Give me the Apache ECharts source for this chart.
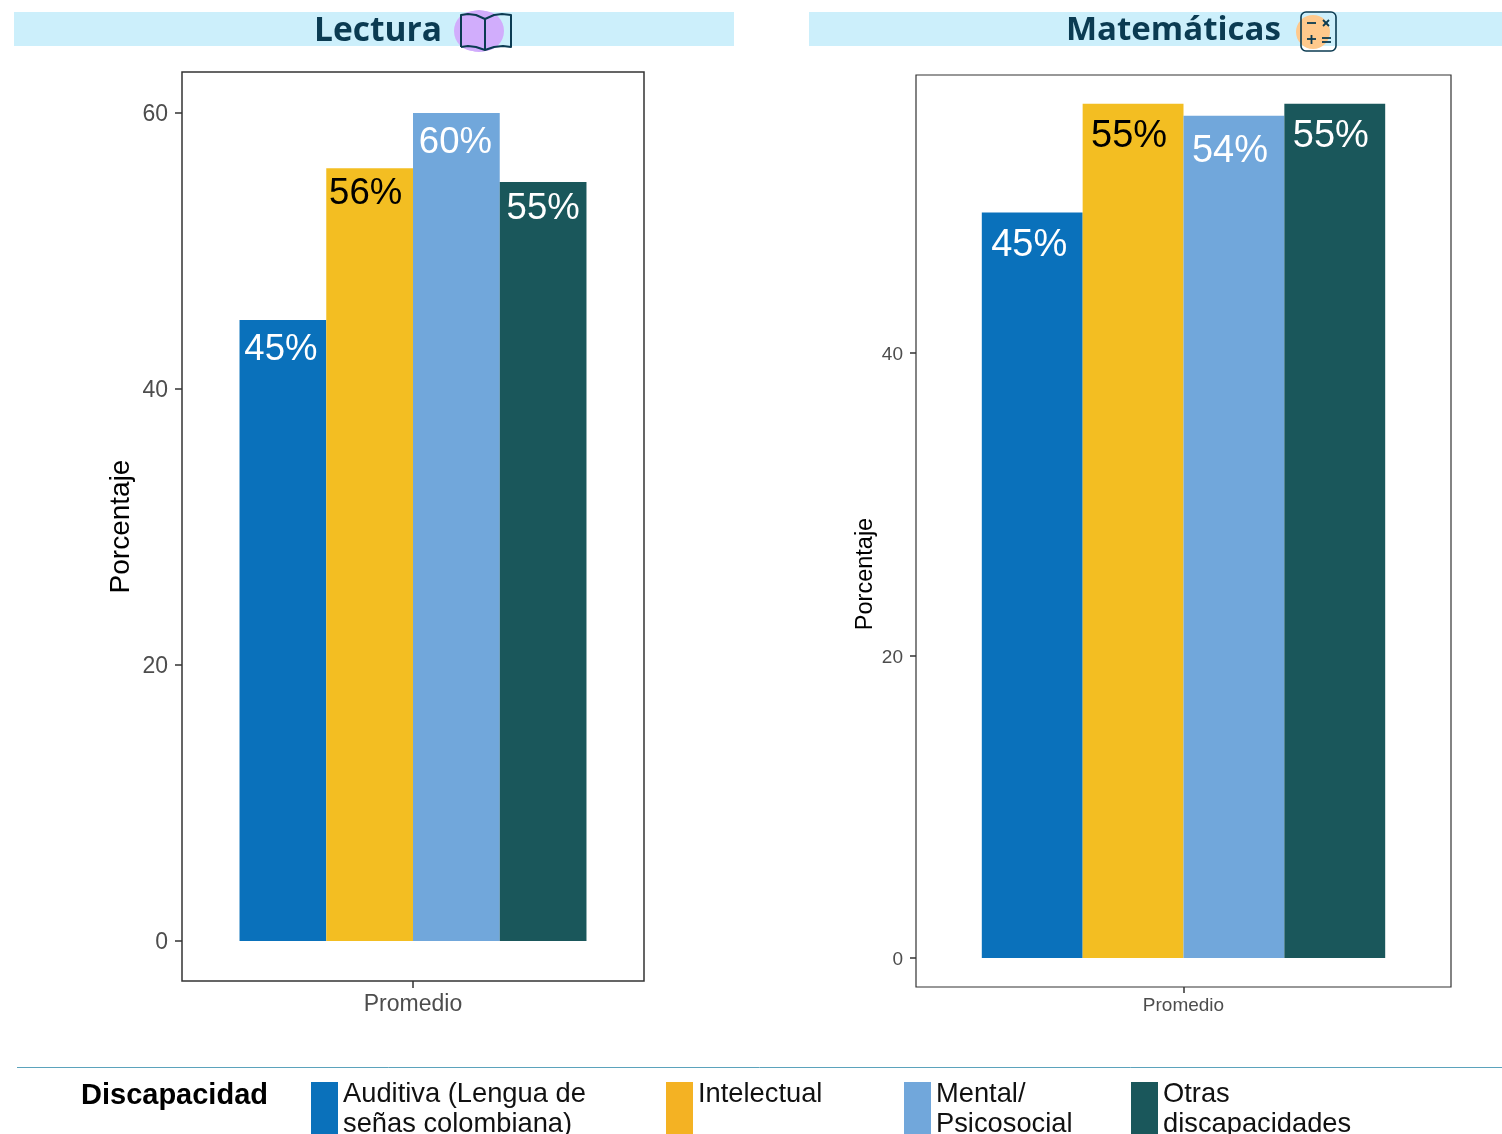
<!DOCTYPE html>
<html><head><meta charset="utf-8">
<style>html,body{margin:0;padding:0;background:#fff;overflow:hidden}#c{width:1502px;height:1134px}</style>
<script src="https://cdn.jsdelivr.net/npm/echarts@6/dist/echarts.min.js"></script>
</head><body><div id="c"></div>
<script>
const categories = ['Promedio'];
const seriesNames = ['Auditiva (Lengua de\nseñas colombiana)', 'Intelectual', 'Mental/\nPsicosocial', 'Otras\ndiscapacidades'];
const lecturaValues = [45, 56, 60, 55];
const lecturaLabels = ['45%', '56%', '60%', '55%'];
const matematicasValues = [49.3, 56.5, 55.7, 56.5];
const matematicasLabels = ['45%', '55%', '54%', '55%'];
const yTicks = [0, 20, 40, 60];
const matYTicks = [0, 20, 40];
const panelTitles = ['Lectura', 'Matemáticas'];
const legendTitle = 'Discapacidad';
const yAxisTitle = 'Porcentaje';

const barColors = ['#0A71BB', '#F3BE22', '#71A7DB', '#1A575B'];
const legendColors = ['#0A71BB', '#F4B223', '#71A7DB', '#1A575B'];
const labelColors = ['#fff', '#000', '#fff', '#fff'];
const FONT = '"Liberation Sans", Arial, sans-serif';
const legendLeft = [311, 666, 904, 1131];
const lecDist = [9, 5, 9, 6];
const matDist = [11, 11, 15, 11];
const lecOffset = [[-2, 2], [-4, 2], [-1, 2], [0, 2]];
const matOffset = [[-3, 3], [-4, 3], [-4, 2], [-4, 3]];

const chart = echarts.init(document.getElementById('c'), null, {renderer: 'canvas'});

function yAxis(idx, min, max, ticks, labelSize, nameSize, gap, tickLen, pad) {
  return {
    type: 'value', gridIndex: idx, min, max, scale: false,
    name: yAxisTitle, nameLocation: 'middle', nameGap: gap,
    nameTextStyle: {fontFamily: FONT, fontSize: nameSize, color: '#000', padding: pad},
    axisLine: {show: false},
    splitLine: {show: false},
    axisTick: {show: true, length: tickLen, customValues: ticks, lineStyle: {color: '#333', width: 1.5}},
    axisLabel: {show: true, customValues: ticks, fontFamily: FONT, fontSize: labelSize, color: '#4D4D4D', margin: tickLen + 7, verticalAlign: 'top', lineHeight: 4}
  };
}
function xAxis(idx, labelSize, tickLen, margin) {
  return {
    type: 'category', gridIndex: idx, data: categories,
    axisLine: {show: false, onZero: false},
    axisTick: {show: true, alignWithLabel: true, length: tickLen, lineStyle: {color: '#333', width: 1.5}},
    axisLabel: {fontFamily: FONT, fontSize: labelSize, color: '#4D4D4D', margin}
  };
}
function barSeries(idx, values, labels, size, dist, offset, gap) {
  return seriesNames.map((name, i) => ({
    type: 'bar', name, xAxisIndex: idx, yAxisIndex: idx,
    data: [values[i]], barGap: 0, barCategoryGap: gap,
    itemStyle: {color: barColors[i]},
    label: {show: true, position: 'insideTop', distance: dist[i], offset: offset[i], formatter: () => labels[i],
            fontFamily: FONT, fontSize: size, color: labelColors[i]},
    emphasis: {disabled: true}, animation: false
  }));
}

const inkTitle = '#0B3B52';
const inkLine = (x1, y1, x2, y2, w) => ({type: 'line', z: 3, shape: {x1, y1, x2, y2}, style: {stroke: inkTitle, lineWidth: w || 1.8}});
const inkPoly = (points) => ({type: 'polyline', z: 3, shape: {points}, style: {fill: 'none', stroke: inkTitle, lineWidth: 2, lineJoin: 'round'}});
chart.setOption({
  animation: false,
  backgroundColor: '#fff',
  title: [
    {text: panelTitles[0], left: 314, top: 14, padding: 0, textStyle: {fontFamily: '"Open Sans"', fontWeight: 'bold', fontSize: 33.5, color: inkTitle}},
    {text: panelTitles[1], left: 1066, top: 14, padding: 0, textStyle: {fontFamily: '"Open Sans"', fontWeight: 'bold', fontSize: 33, color: inkTitle}},
    {text: legendTitle, left: 81, top: 1081, padding: 0, textStyle: {fontFamily: FONT, fontWeight: 'bold', fontSize: 29, color: '#000'}}
  ],
  grid: [
    {left: 182, top: 72, width: 462, height: 909, show: true, backgroundColor: 'transparent', borderColor: '#333', borderWidth: 1.5, containLabel: false},
    {left: 916, top: 75, width: 535, height: 912, show: true, backgroundColor: 'transparent', borderColor: '#333', borderWidth: 1.2, containLabel: false}
  ],
  xAxis: [xAxis(0, 23, 7, 12), xAxis(1, 19, 6, 9)],
  yAxis: [
    yAxis(0, -2.9, 62.97, yTicks, 23, 28, 47, 7, 0),
    yAxis(1, -1.92, 58.4, matYTicks, 19, 23.5, 38, 6, [0, 86, 0, 0])
  ],
  legend: seriesNames.map((name, i) => ({
    show: true, left: legendLeft[i], top: 1079, padding: 0, orient: 'horizontal',
    selectedMode: false, icon: 'rect', itemWidth: 27, itemHeight: 54,
    data: [{name, itemStyle: {color: legendColors[i]}}],
    formatter: n => n.includes('\n') ? n : n + '\n\u00a0',
    textStyle: {fontFamily: FONT, fontSize: 27.3, lineHeight: 30, color: '#111'}
  })),
  series: [...barSeries(0, lecturaValues, lecturaLabels, 36.5, lecDist, lecOffset, '24.9%'), ...barSeries(1, matematicasValues, matematicasLabels, 38, matDist, matOffset, '24.6%')],
  graphic: [
    {type: 'rect', z: -1, shape: {x: 14, y: 12, width: 720, height: 34}, style: {fill: '#CCEFFB'}},
    {type: 'rect', z: -1, shape: {x: 809, y: 12, width: 693, height: 34}, style: {fill: '#CCEFFB'}},
    {type: 'line', shape: {x1: 17, y1: 1067.5, x2: 1502, y2: 1067.5}, style: {stroke: '#5BA3BC', lineWidth: 1}},
    {type: 'circle', z: 1, shape: {cx: 479, cy: 31, r: 21}, style: {fill: '#D1ADFC'}},
    {type: 'circle', z: 1, shape: {cx: 474, cy: 31, r: 20}, style: {fill: '#D1ADFC'}},
    {type: 'circle', z: 1, shape: {cx: 484, cy: 31, r: 20}, style: {fill: '#D1ADFC'}},
    inkPoly([[461,47],[461,15],[468,14],[476,15],[485,19],[494,15],[502,14],[511,15],[511,47],[503,46],[494,47],[485,50],[476,47],[468,46],[461,47]]),
    inkLine(485, 19, 485, 50, 2),
    {type: 'circle', z: 1, shape: {cx: 1313, cy: 32, r: 17}, style: {fill: '#FFC98C'}},
    {type: 'rect', z: 2, shape: {x: 1301, y: 12, width: 35, height: 39, r: 5}, style: {fill: 'none', stroke: inkTitle, lineWidth: 1.6}},
    inkLine(1307, 23, 1316, 23), inkLine(1323, 20, 1329, 26), inkLine(1329, 20, 1323, 26),
    inkLine(1307, 39, 1316, 39), inkLine(1311.5, 35, 1311.5, 44), inkLine(1322, 38, 1331, 38), inkLine(1322, 42, 1331, 42)
  ]
});
</script></body></html>
